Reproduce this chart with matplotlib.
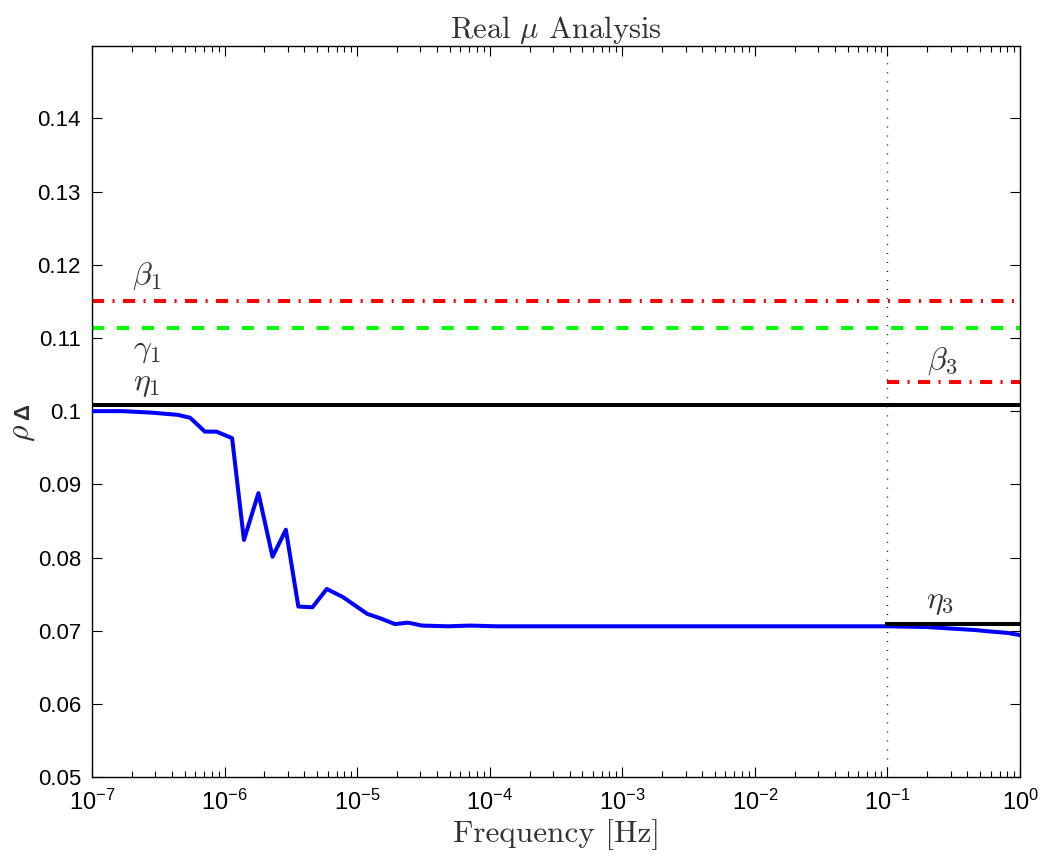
import numpy as np
import matplotlib
matplotlib.use("Agg")
import matplotlib.pyplot as plt
from matplotlib.ticker import FixedLocator, NullFormatter, FixedFormatter

plt.rcParams['font.family'] = ['Liberation Sans', 'DejaVu Sans']
plt.rcParams['mathtext.fontset'] = 'cm'

# Data
freq = [1e-7, 1.7e-7, 2.8e-7, 4.4e-7, 5.5e-7, 7.1e-7, 8.7e-7, 1.14e-6, 1.4e-6,
        1.8e-6, 2.3e-6, 2.9e-6, 3.6e-6, 4.6e-6, 5.9e-6, 7.8e-6, 1.19e-5, 1.49e-5,
        1.93e-5, 2.42e-5, 3.08e-5, 4.84e-5, 7.1e-5, 1.13e-4, 1e-3, 1e-2, 1e-1,
        0.2, 0.295, 0.45, 0.59, 0.8, 1.0]
rho = [0.1000, 0.1000, 0.0998, 0.0995, 0.0991, 0.0972, 0.0972, 0.0963, 0.0824,
       0.0888, 0.0801, 0.0838, 0.0733, 0.0732, 0.0757, 0.0746, 0.0723, 0.0717,
       0.0709, 0.0711, 0.0707, 0.0706, 0.0707, 0.0706, 0.0706, 0.0706, 0.0706,
       0.0705, 0.0703, 0.0701, 0.0699, 0.0697, 0.0694]

beta1 = 0.1151
gamma1 = 0.1114
eta1 = 0.1009
beta3 = 0.1040
eta3 = 0.0709
split_freq = 0.1

ytick_vals = [0.05, 0.06, 0.07, 0.08, 0.09, 0.10, 0.11, 0.12, 0.13, 0.14]
ytick_labels = ['0.05', '0.06', '0.07', '0.08', '0.09', '0.1', '0.11', '0.12', '0.13', '0.14']
xtick_exps = [-7, -6, -5, -4, -3, -2, -1, 0]
xtick_vals = [10.0 ** e for e in xtick_exps]
xtick_labels = [r'$\mathregular{10^{%d}}$' % e for e in xtick_exps]

fig = plt.figure(figsize=(10.43, 8.61), dpi=100)
ax = fig.add_axes([0.0882, 0.0975, 0.8898, 0.8491])

ax.set_xscale('log')
ax.set_xlim(1e-7, 1)
ax.set_ylim(0.05, 0.1499)

LW = 2.9
dashdot = (3, 2.1, 0.5, 2.1)
ax.plot(freq, rho, color='#0000ff', lw=LW, zorder=3)
ax.plot([1e-7, 1], [eta1, eta1], color='black', lw=LW)
ax.plot([1e-7, 1], [beta1, beta1], color='#ff0000', lw=LW, dashes=dashdot)
ax.plot([1e-7, 1], [gamma1, gamma1], color='#00ff00', lw=LW, dashes=(3, 3.2))
ax.plot([split_freq, 1], [beta3, beta3], color='#ff0000', lw=LW, dashes=dashdot)
ax.plot([split_freq, 1], [eta3, eta3], color='black', lw=LW, zorder=4)
ax.axvline(split_freq, color='black', lw=1.0, dashes=(0.7, 5.8))

tkw = dict(fontsize=23, color='#333333', ha='center', va='center')
ax.text(2.6e-7, 0.1184, r'$\beta_1$', **tkw)
ax.text(2.6e-7, 0.1084, r'$\gamma_1$', **tkw)
ax.text(2.6e-7, 0.1037, r'$\eta_1$', **tkw)
ax.text(0.26, 0.1068, r'$\beta_3$', **tkw)
ax.text(0.25, 0.0739, r'$\eta_3$', **tkw)

ax.yaxis.set_major_locator(FixedLocator(ytick_vals))
ax.yaxis.set_major_formatter(FixedFormatter(ytick_labels))
ax.xaxis.set_major_locator(FixedLocator(xtick_vals))
ax.xaxis.set_major_formatter(FixedFormatter(xtick_labels))
minor = [m * 10.0 ** e for e in xtick_exps[:-1] for m in range(2, 10)]
ax.xaxis.set_minor_locator(FixedLocator(minor))
ax.xaxis.set_minor_formatter(NullFormatter())

ax.tick_params(which='both', direction='in', top=True, right=True, labelsize=16, width=0.8)
ax.tick_params(which='major', length=7, pad=8)
ax.tick_params(which='minor', length=4)
ax.tick_params(axis='x', labelsize=17, pad=9)
for s in ax.spines.values():
    s.set_linewidth(1.0)

ax.set_title(r'Real $\mu$ Analysis', fontfamily='cmr10', fontsize=22, color='#333333', pad=6)
ax.set_xlabel('Frequency [Hz]', fontfamily='cmr10', fontsize=22.5, color='#333333', labelpad=3)
ax.set_ylabel(r'$\rho$', fontsize=23, color='#333333')
ax.yaxis.label.set_verticalalignment('center')
ax.yaxis.set_label_coords(-0.0754, 0.4706)
ax.text(-0.0738, 0.4993, 'Δ', transform=ax.transAxes, rotation=90, fontsize=16,
        fontweight='bold', color='#333333', ha='center', va='center')

fig.savefig('out.png', dpi=100)
